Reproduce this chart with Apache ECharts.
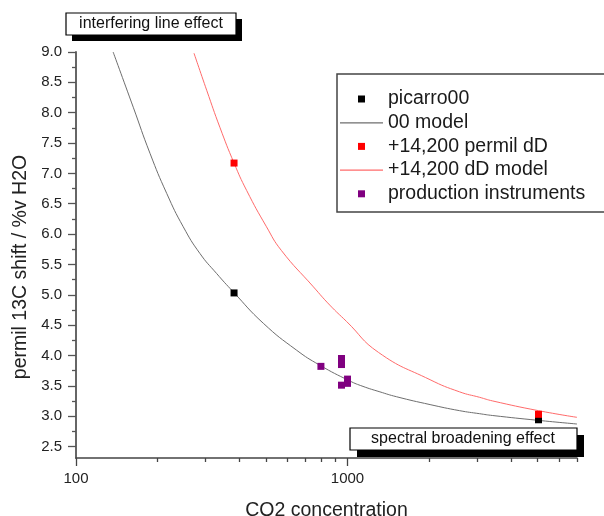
<!DOCTYPE html>
<html><head><meta charset="utf-8">
<script src="https://cdn.jsdelivr.net/npm/echarts@6/dist/echarts.min.js"></script>
<style>html,body{margin:0;padding:0;background:#fff}#c{width:604px;height:516px}</style>
</head><body><div id="c"></div>
<script>
// ---- data ----
const picarroX = [382, 5050];
const picarroY = [5.03, 2.94];
const dDX = [382, 5050];
const dDY = [7.17, 3.03];
const prodX = [798, 950, 950, 950, 1000, 1000];
const prodY = [3.82, 3.95, 3.85, 3.51, 3.61, 3.54];
const modelX = [137, 162.5, 187.3, 215.8, 248.3, 286, 329.5, 379, 489.6, 647.6, 790, 1019, 1140, 1316, 1514, 2014, 2586, 3065, 3425, 5050, 7000];
const modelY = [9.0, 8.09, 7.33, 6.67, 6.12, 5.68, 5.35, 5.05, 4.53, 4.09, 3.84, 3.58, 3.49, 3.40, 3.32, 3.19, 3.09, 3.04, 3.01, 2.93, 2.87];
const dDModelX = [272, 302.9, 338.7, 382, 424.9, 503, 570.6, 748.8, 860, 991.6, 1300, 2014, 2586, 3065, 3425, 5050, 7000];
const dDModelY = [8.98, 8.37, 7.76, 7.17, 6.72, 6.12, 5.73, 5.13, 4.83, 4.56, 4.05, 3.60, 3.40, 3.31, 3.25, 3.09, 2.98];
const xTickMajor = [100, 1000];
const xTickMinor = [200, 300, 400, 500, 600, 700, 800, 900, 2000, 3000, 4000, 5000, 6000, 7000];
const yTickMajor = [2.5, 3.0, 3.5, 4.0, 4.5, 5.0, 5.5, 6.0, 6.5, 7.0, 7.5, 8.0, 8.5, 9.0];
const yTickMinor = [2.75, 3.25, 3.75, 4.25, 4.75, 5.25, 5.75, 6.25, 6.75, 7.25, 7.75, 8.25, 8.75];
const seriesNames = ['picarro00', '00 model', '+14,200 permil dD', '+14,200 dD model', 'production instruments'];
const xTitle = 'CO2 concentration';
const yTitle = 'permil 13C shift / %v H2O';
const noteTop = 'interfering line effect';
const noteBottom = 'spectral broadening effect';

const zip = (xs, ys) => xs.map((x, i) => [x, ys[i]]);
const FONT = 'Liberation Sans, Arial, sans-serif';
const sqIcon = 'path://M0,0M43,0M43,7M0,7M18,0h7v7h-7z';
const lnIcon = 'path://M0,0M43,0M43,7M0,7M0,3h43v1.2h-43z';

const chart = echarts.init(document.getElementById('c'), null, {renderer: 'canvas'});
const xBase = {type: 'log', logBase: 10, min: 100, max: 7000, position: 'bottom', splitLine: {show: false}};
const yBase = {type: 'value', min: 2.31, max: 9.0, position: 'left', splitLine: {show: false}};
chart.setOption({
  animation: false,
  backgroundColor: '#fff',
  grid: {left: 76, right: 27, top: 52, bottom: 58, containLabel: false, outerBoundsMode: 'none'},
  xAxis: [
    Object.assign({}, xBase, {
      axisLine: {show: true, lineStyle: {color: '#444', width: 1.5}},
      axisTick: {show: true, length: 8, customValues: xTickMajor, lineStyle: {color: '#444', width: 1.3}},
      axisLabel: {show: true, customValues: xTickMajor, margin: 13, color: '#222', fontSize: 15, fontFamily: FONT,
        formatter: v => String(Math.round(v))},
      name: xTitle, nameLocation: 'middle', nameGap: 43,
      nameTextStyle: {fontSize: 19.5, color: '#222', fontFamily: FONT}
    }),
    Object.assign({}, xBase, {
      axisLine: {show: false},
      axisTick: {show: true, length: 4, customValues: xTickMinor, lineStyle: {color: '#444', width: 1.3}},
      axisLabel: {show: false}
    })
  ],
  yAxis: [
    Object.assign({}, yBase, {
      axisLine: {show: true, lineStyle: {color: '#666', width: 2}},
      axisTick: {show: true, length: 8, customValues: yTickMajor, lineStyle: {color: '#555', width: 1.3}},
      axisLabel: {show: true, customValues: yTickMajor, margin: 14, color: '#222', fontSize: 15, fontFamily: FONT,
        formatter: v => v.toFixed(1)},
      name: yTitle, nameLocation: 'middle', nameGap: 44, nameRotate: 90,
      nameTextStyle: {fontSize: 19.5, color: '#222', fontFamily: FONT, padding: [0, 24, 0, 0]}
    }),
    Object.assign({}, yBase, {
      axisLine: {show: false},
      axisTick: {show: true, length: 4, customValues: yTickMinor, lineStyle: {color: '#555', width: 1.3}},
      axisLabel: {show: false}
    })
  ],
  legend: {
    orient: 'vertical', left: 340, top: 89, itemWidth: 43, itemHeight: 7, itemGap: 3.7,
    padding: 0,
    textStyle: {fontSize: 19.5, color: '#1a1a1a', fontFamily: FONT},
    data: [
      {name: seriesNames[0], icon: sqIcon},
      {name: seriesNames[1], icon: lnIcon},
      {name: seriesNames[2], icon: sqIcon},
      {name: seriesNames[3], icon: lnIcon},
      {name: seriesNames[4], icon: sqIcon}
    ]
  },
  graphic: [
    {type: 'rect', z: 1, shape: {x: 337, y: 74, width: 300, height: 138}, style: {fill: '#fff', stroke: '#444', lineWidth: 1.5}},
    {type: 'rect', z: 10, shape: {x: 72, y: 19, width: 170, height: 22}, style: {fill: '#000'}},
    {type: 'rect', z: 11, shape: {x: 66, y: 13, width: 170, height: 22}, style: {fill: '#fff', stroke: '#000', lineWidth: 1.2}},
    {type: 'text', z: 12, x: 151, y: 24, style: {text: noteTop, font: '16px ' + FONT, fill: '#111', align: 'center', verticalAlign: 'middle'}},
    {type: 'rect', z: 10, shape: {x: 357, y: 435, width: 227, height: 22}, style: {fill: '#000'}},
    {type: 'rect', z: 11, shape: {x: 350, y: 428, width: 227, height: 22}, style: {fill: '#fff', stroke: '#000', lineWidth: 1.2}},
    {type: 'text', z: 12, x: 463, y: 439, style: {text: noteBottom, font: '16px ' + FONT, fill: '#111', align: 'center', verticalAlign: 'middle'}}
  ],
  series: [
    {name: seriesNames[1], type: 'line', data: zip(modelX, modelY), symbol: 'none', smooth: 0.5, z: 2,
      lineStyle: {color: '#6e6e6e', width: 1}, itemStyle: {color: '#6e6e6e'}},
    {name: seriesNames[3], type: 'line', data: zip(dDModelX, dDModelY), symbol: 'none', smooth: 0.5, z: 2,
      lineStyle: {color: '#ff6b6b', width: 1}, itemStyle: {color: '#ff6b6b'}},
    {name: seriesNames[0], type: 'scatter', data: zip(picarroX, picarroY), symbol: 'rect', symbolSize: 7, z: 3,
      itemStyle: {color: '#000', opacity: 1}},
    {name: seriesNames[2], type: 'scatter', data: zip(dDX, dDY), symbol: 'rect', symbolSize: 7, z: 4,
      itemStyle: {color: '#ff0000', opacity: 1}},
    {name: seriesNames[4], type: 'scatter', data: zip(prodX, prodY), symbol: 'rect', symbolSize: 7, z: 4,
      itemStyle: {color: '#800080', opacity: 1}}
  ]
});
</script></body></html>
